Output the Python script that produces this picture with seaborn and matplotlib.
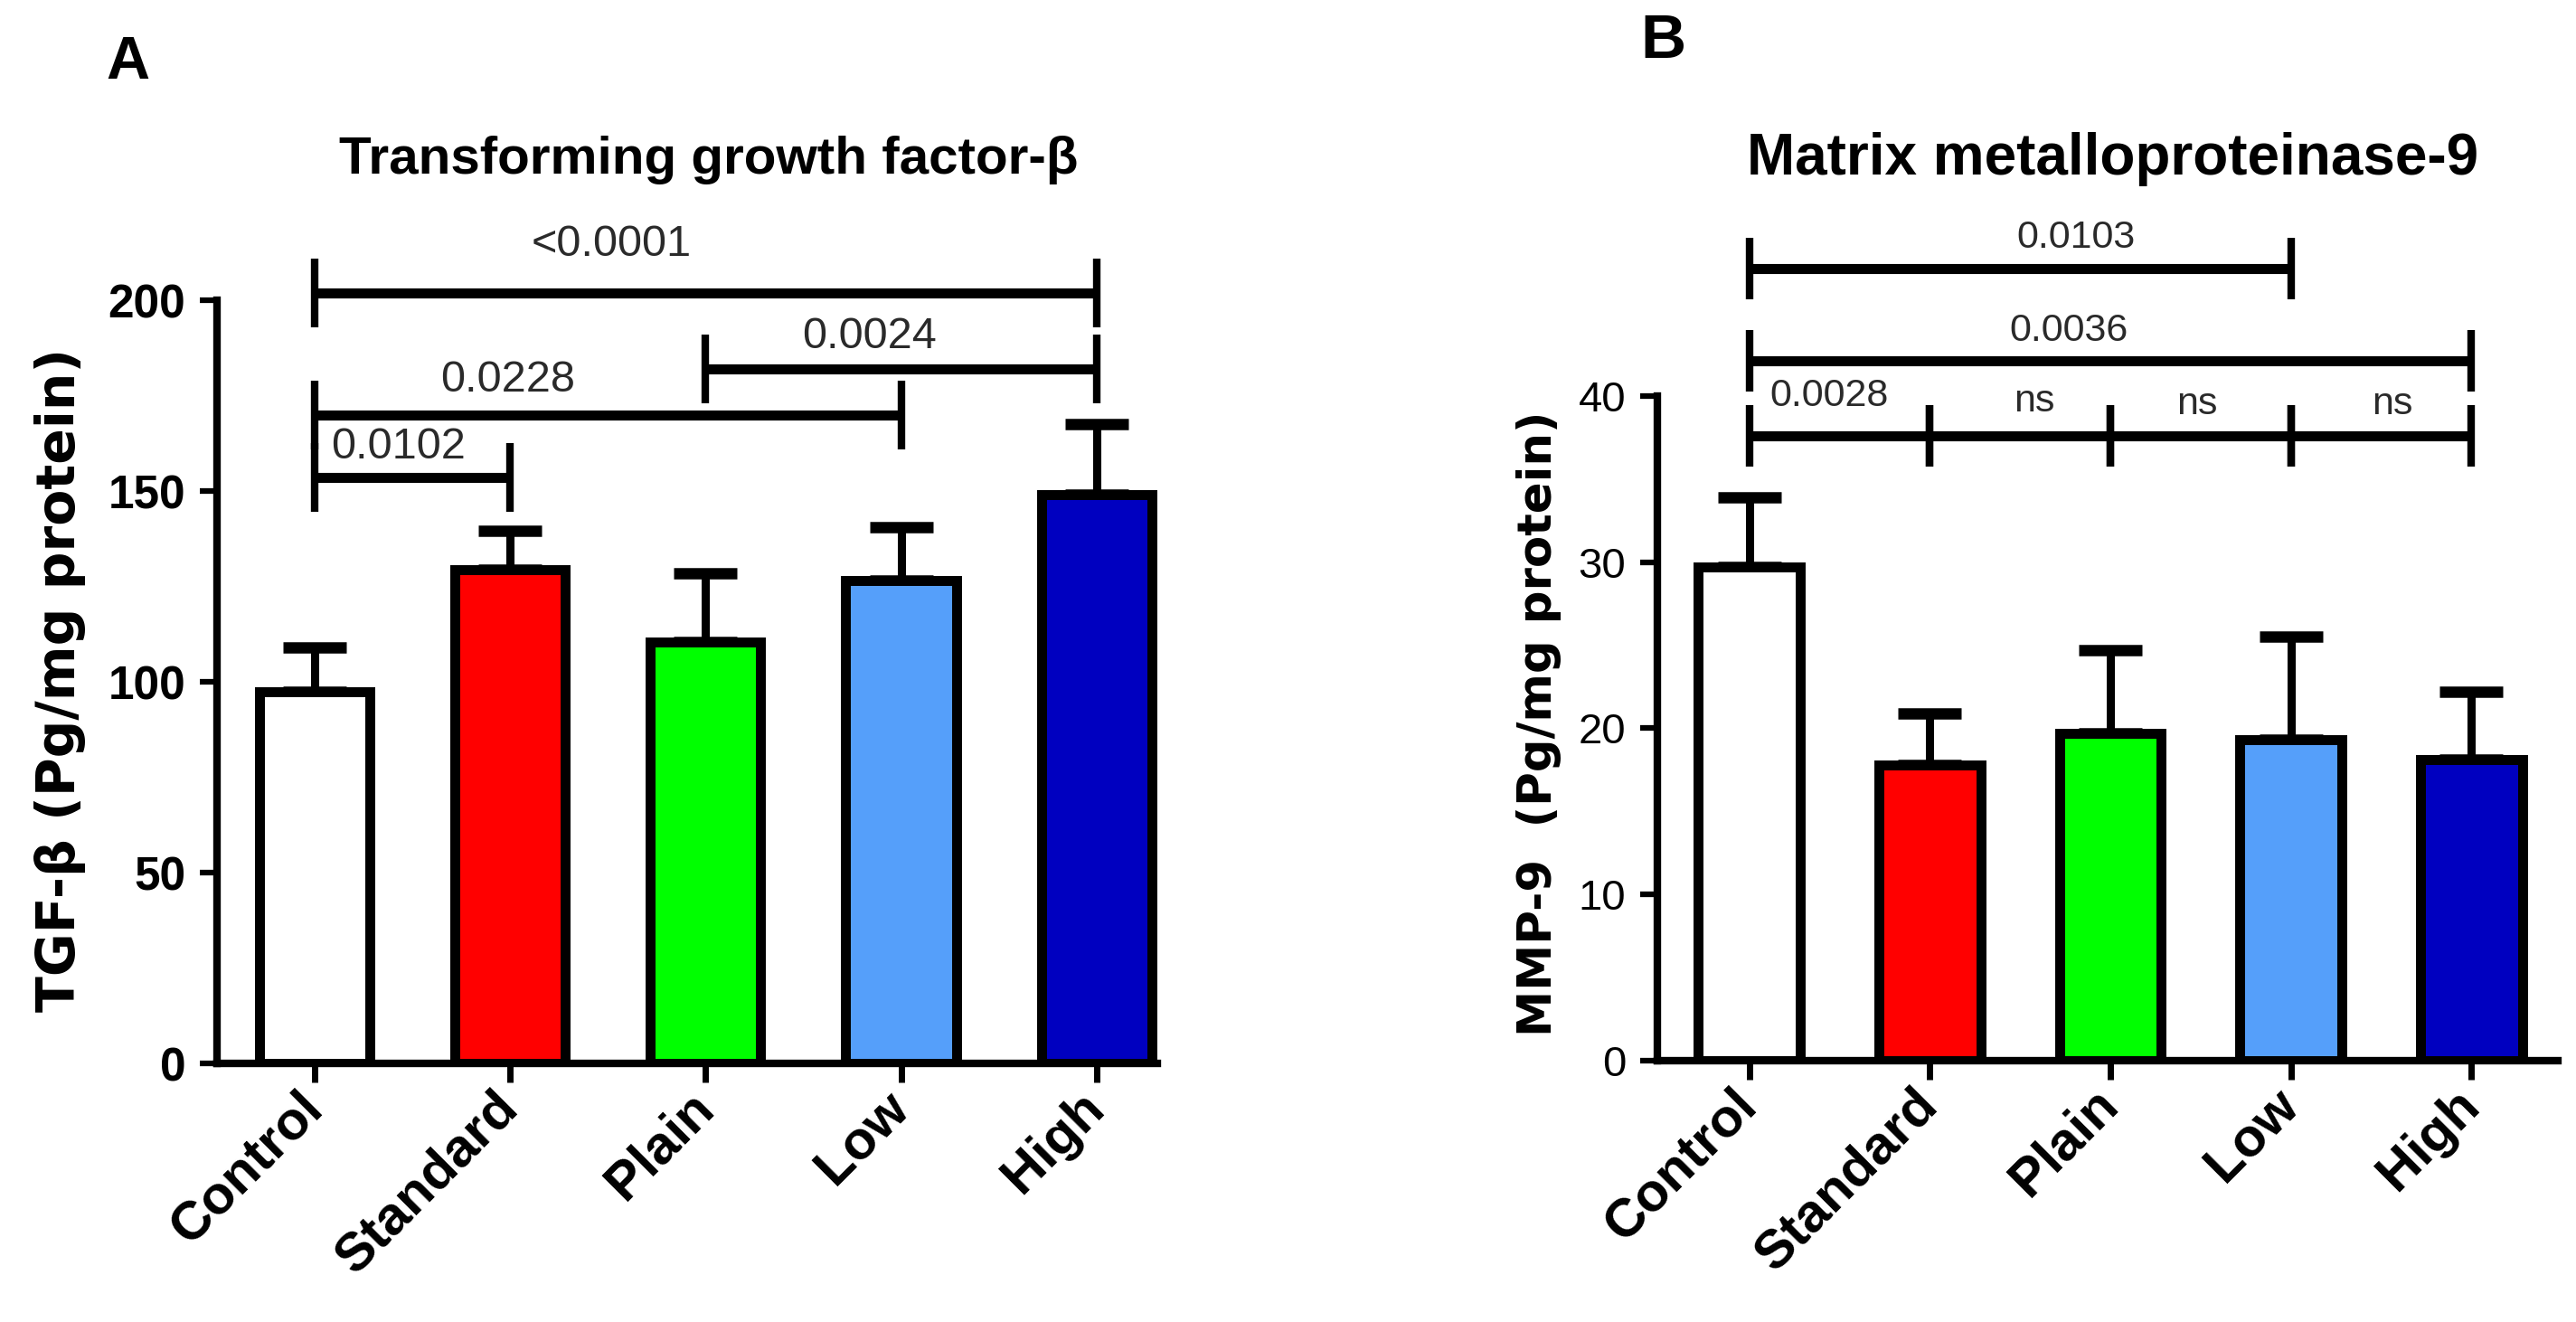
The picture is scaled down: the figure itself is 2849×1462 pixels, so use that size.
import numpy as np
import pandas as pd
import matplotlib
matplotlib.use("Agg")
import matplotlib.pyplot as plt
from matplotlib import font_manager
import seaborn as sns

# groups and colours
groups = ["Control", "Standard", "Plain", "Low", "High"]
bar_colors = ["#FFFFFF", "#FF0000", "#00FF00", "#559FFA", "#0000C0"]

# panel A: TGF-beta, mean and upper SD
tgf_mean = [97.5, 129.5, 110.5, 126.5, 149.0]
tgf_sd = [11.5, 10.0, 18.0, 14.0, 18.6]
tgf_ticks = [0, 50, 100, 150, 200]

# panel B: MMP-9, mean and upper SD
mmp_mean = [29.7, 17.8, 19.7, 19.3, 18.1]
mmp_sd = [4.2, 3.1, 5.0, 6.2, 4.1]
mmp_ticks = [0, 10, 20, 30, 40]

# significance brackets: (from group, to group, height, label)
tgf_pairs = [(0, 1, 153.5, "0.0102"), (0, 3, 170.0, "0.0228"),
             (2, 4, 182.0, "0.0024"), (0, 4, 202.0, "<0.0001")]
tgf_text_x = [0.43, 0.99, 2.84, 1.52]
tgf_text_y = [161.5, 179.0, 190.5, 214.5]

mmp_pairs = [(0, 1, 37.6, "0.0028"), (1, 2, 37.6, "ns"), (2, 3, 37.6, "ns"),
             (3, 4, 37.6, "ns"), (0, 4, 42.1, "0.0036"), (0, 3, 47.7, "0.0103")]
mmp_text_x = [0.44, 1.58, 2.48, 3.56, 1.77, 1.81]
mmp_text_y = [40.0, 39.7, 39.5, 39.5, 43.9, 49.5]

sns.set_style("ticks")
installed = {f.name for f in font_manager.fontManager.ttflist}
narrow = "Liberation Sans Narrow" if "Liberation Sans Narrow" in installed else "Liberation Sans"
plt.rcParams["font.family"] = ["Liberation Sans", "DejaVu Sans"]
# GraphPad style: pure black axes and text
for key in ["axes.edgecolor", "axes.labelcolor", "xtick.color", "ytick.color", "text.color"]:
    plt.rcParams[key] = "black"


def draw_panel(ax, means, sds, ticks, pairs, text_x, text_y, tick_half, xlim,
               ylabel, ylabel_size, ytick_weight, ytick_size, ptext_size, title,
               title_size, title_xy, ylabel_xy):
    df = pd.DataFrame({"group": groups, "value": means})
    sns.barplot(data=df, x="group", y="value", hue="group", palette=bar_colors,
                legend=False, width=0.565, saturation=1, edgecolor="black",
                linewidth=7.9, errorbar=None, ax=ax, zorder=3)
    ax.errorbar(np.arange(len(groups)), means,
                yerr=[np.zeros(len(groups)), sds], fmt="none", ecolor="black",
                elinewidth=6.5, capsize=25, capthick=9, zorder=2)

    ax.set_xlim(*xlim)
    ax.set_ylim(ticks[0], ticks[-1])
    ax.set_yticks(ticks)
    sns.despine(ax=ax)
    for side in ["left", "bottom"]:
        ax.spines[side].set_linewidth(6)
        ax.spines[side].set_color("black")
    ax.tick_params(axis="y", length=14, width=4.5, pad=11, colors="black")
    ax.tick_params(axis="x", length=15, width=5, pad=14, colors="black")
    for lab in ax.get_yticklabels():
        lab.set_fontfamily(narrow)
        lab.set_fontweight(ytick_weight)
        lab.set_fontsize(ytick_size)
    ax.set_xticks(range(len(groups)))
    ax.set_xticklabels(groups, rotation=45, ha="right", va="center",
                       rotation_mode="anchor", fontsize=43, fontweight="bold")
    ax.set_xlabel("")
    ax.set_ylabel(ylabel, fontsize=ylabel_size, fontweight="bold",
                  family="DejaVu Sans", color="black")
    ax.yaxis.set_label_coords(*ylabel_xy)

    for (a, b, h, lab), tx, ty in zip(pairs, text_x, text_y):
        ax.plot([a, b], [h, h], color="black", lw=8, clip_on=False,
                solid_capstyle="butt", zorder=4)
        for x in (a, b):
            ax.plot([x, x], [h - tick_half, h + tick_half], color="black",
                    lw=6, clip_on=False, solid_capstyle="butt", zorder=4)
        ax.text(tx, ty, lab, ha="center", va="center", fontsize=ptext_size,
                color="#2a2a2a", family=narrow, clip_on=False)

    ax.text(title_xy[0], title_xy[1], title, transform=ax.transAxes,
            ha="center", va="center", fontsize=title_size, fontweight="bold",
            family=narrow)


fig = plt.figure(figsize=(28.49, 14.62), dpi=100)
ax_a = fig.add_axes([0.0842, 0.1956, 0.3650, 0.5773])
ax_b = fig.add_axes([0.6434, 0.1977, 0.3496, 0.5027])

draw_panel(ax_a, tgf_mean, tgf_sd, tgf_ticks, tgf_pairs, tgf_text_x, tgf_text_y,
           9.0, (-0.5, 4.31), "TGF-β (Pg/mg protein)", 42, "bold", 37, 35,
           "Transforming growth factor-β", 42, (0.523, 1.184), (-0.139, 0.502))
draw_panel(ax_b, mmp_mean, mmp_sd, mmp_ticks, mmp_pairs, mmp_text_x, mmp_text_y,
           1.85, (-0.51, 4.48), "MMP-9  (Pg/mg protein)", 37, "normal", 34, 31,
           "Matrix metalloproteinase-9", 46, (0.506, 1.356), (-0.106, 0.507))

fig.text(0.0495, 0.952, "A", ha="center", va="center", fontsize=48,
         fontweight="bold")
fig.text(0.6458, 0.9685, "B", ha="center", va="center", fontsize=50,
         fontweight="bold", family=narrow)

fig.savefig("out.png", dpi=100, facecolor="white")
